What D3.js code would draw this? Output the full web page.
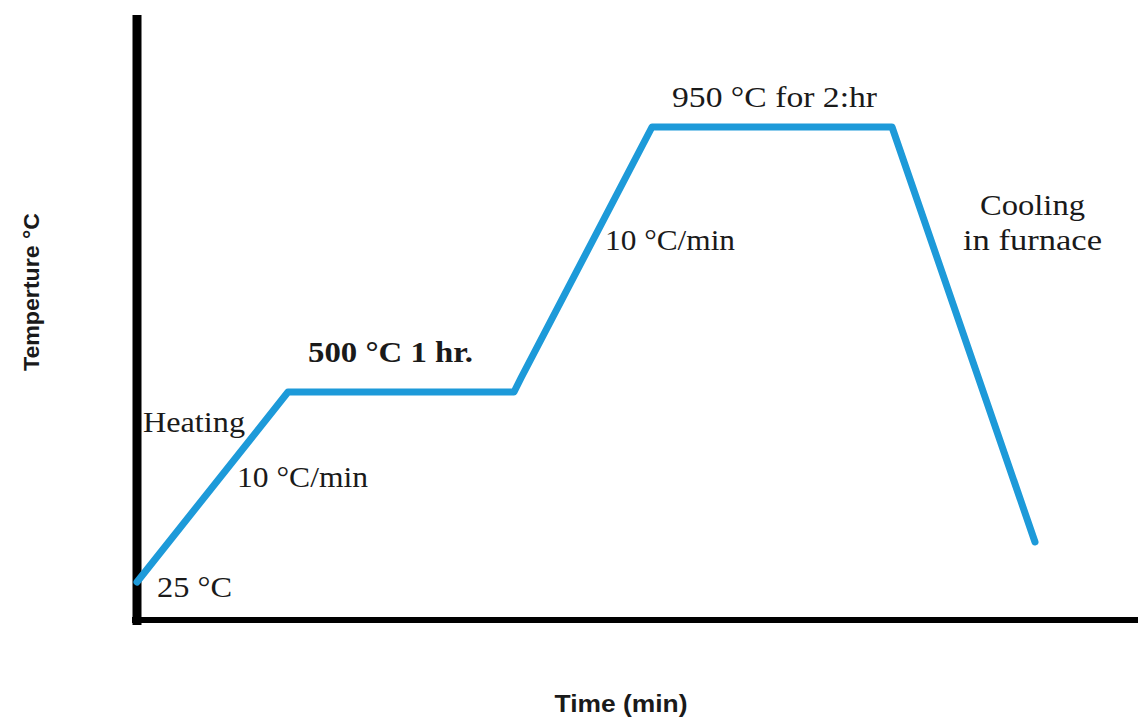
<!DOCTYPE html>
<html>
<head>
<meta charset="utf-8">
<script src="https://cdn.jsdelivr.net/npm/d3@7"></script>
<style>
  html, body { margin: 0; padding: 0; background: #fff; }
  svg { display: block; }
</style>
</head>
<body>
<svg id="chart" width="1138" height="718"></svg>
<script>
// Schematic heat-treatment profile (time in arbitrary schematic units, temperature level in schematic units)
const timePoints = [0, 151, 377, 384, 515, 755, 898];
const tempLevels = [38, 228, 228, 242, 493, 493, 78];

// Annotations: text, anchor time, anchor level, bold?, target width
const labelTexts  = ["Heating", "10 °C/min", "25 °C", "500 °C 1 hr.", "950 °C for 2:hr", "10 °C/min", "Cooling", "in furnace"];
const labelTimes  = [6, 100, 20, 171, 535, 468, 843, 826];
const labelLevels = [188, 133, 23, 258, 513, 370, 405, 370];
const labelBold   = [false, false, false, true, false, false, false, false];
const labelWidths = [102, 131, 75, 165, 205, 130, 105, 139];

const xTitle = "Time (min)";
const yTitle = "Temperture °C";

const svg = d3.select("#chart");
const x = d3.scaleLinear().domain([0, 1001]).range([137, 1138]);
const y = d3.scaleLinear().domain([0, 605]).range([620, 15]);

// Axes (no ticks)
const gx = svg.append("g").attr("transform", `translate(0,${y(0)})`)
  .call(d3.axisBottom(x).tickValues([]).tickSizeOuter(0));
gx.select(".domain").attr("stroke", "#000").attr("stroke-width", 6)
  .attr("d", `M${x(-5)},0H${x(1001)}`);

const gy = svg.append("g").attr("transform", `translate(${x(0)},0)`)
  .call(d3.axisLeft(y).tickValues([]).tickSizeOuter(0));
gy.select(".domain").attr("stroke", "#000").attr("stroke-width", 9)
  .attr("d", `M0,${y(-5)}V${y(605)}`);

// Profile line
const pts = timePoints.map((t, i) => [t, tempLevels[i]]);
svg.append("path")
  .datum(pts)
  .attr("fill", "none")
  .attr("stroke", "#1d9ad9")
  .attr("stroke-width", 7)
  .attr("stroke-linejoin", "round")
  .attr("stroke-linecap", "round")
  .attr("d", d3.line().x(d => x(d[0])).y(d => y(d[1])));

// Annotations
labelTexts.forEach((t, i) => {
  svg.append("text")
    .attr("x", x(labelTimes[i]))
    .attr("y", y(labelLevels[i]))
    .attr("font-family", "'Liberation Serif', 'Times New Roman', serif")
    .attr("font-size", 30)
    .attr("font-weight", labelBold[i] ? "bold" : "normal")
    .attr("fill", "#1a1a1a")
    .attr("textLength", labelWidths[i])
    .attr("lengthAdjust", "spacingAndGlyphs")
    .text(t);
});

// Axis titles
svg.append("text")
  .attr("x", 621).attr("y", 712)
  .attr("text-anchor", "middle")
  .attr("font-family", "'Liberation Sans', Arial, sans-serif")
  .attr("font-weight", "bold")
  .attr("font-size", 23)
  .attr("fill", "#1a1a1a")
  .attr("textLength", 133)
  .attr("lengthAdjust", "spacingAndGlyphs")
  .text(xTitle);

svg.append("text")
  .attr("transform", "translate(39,292) rotate(-90)")
  .attr("text-anchor", "middle")
  .attr("font-family", "'Liberation Sans', Arial, sans-serif")
  .attr("font-weight", "bold")
  .attr("font-size", 22)
  .attr("fill", "#1a1a1a")
  .attr("textLength", 158)
  .attr("lengthAdjust", "spacingAndGlyphs")
  .text(yTitle);
</script>
</body>
</html>
